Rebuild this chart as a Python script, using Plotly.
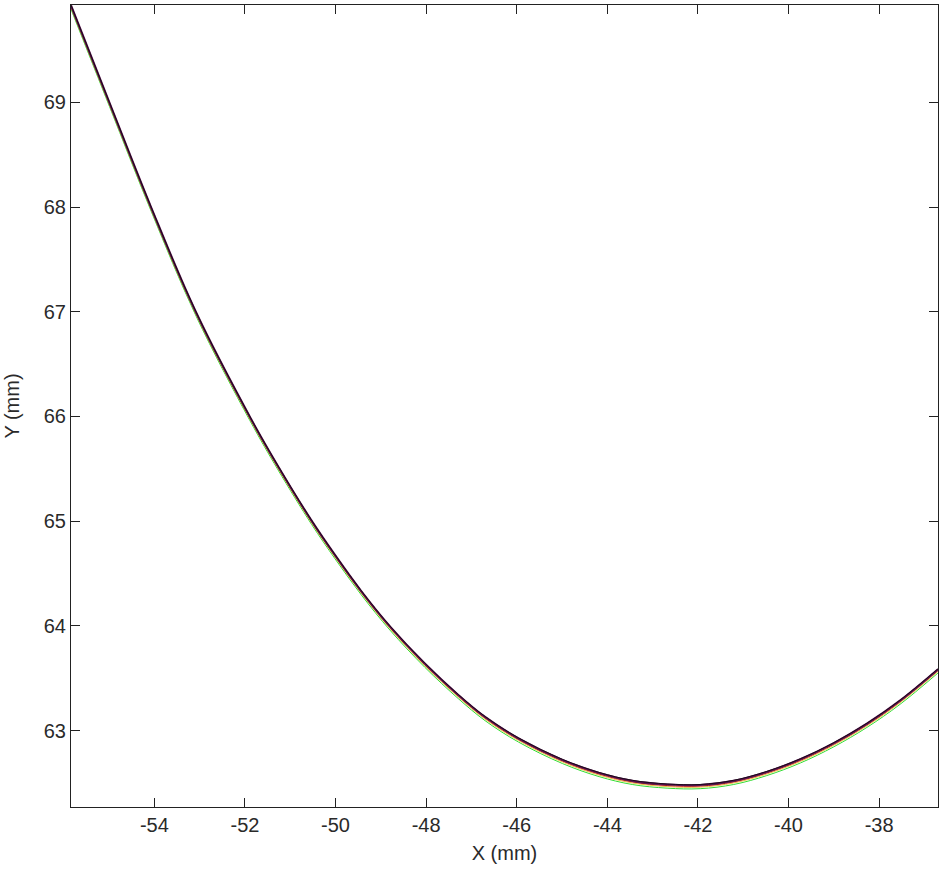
import plotly.graph_objects as go

# Values
x_vals = [-55.84, -54.99, -54.07, -53.08, -51.89, -51.27, -50.53, -50.01, -49.43,
          -48.80, -48.03, -47.29, -46.70, -45.96, -44.99, -44.18, -43.45, -42.68,
          -41.95, -41.21, -40.48, -39.74, -39.00, -38.27, -37.54, -36.70]
y_black = [69.93, 69.00, 68.00, 67.00, 66.00, 65.53, 65.01, 64.68, 64.335,
           64.00, 63.645, 63.345, 63.135, 62.93, 62.725, 62.60, 62.525, 62.49,
           62.485, 62.525, 62.61, 62.73, 62.885, 63.07, 63.29, 63.59]
y_purple = [69.925, 68.995, 67.995, 66.995, 65.995, 65.525, 65.005, 64.675, 64.33,
            63.995, 63.64, 63.34, 63.13, 62.925, 62.72, 62.595, 62.52, 62.485,
            62.48, 62.52, 62.605, 62.725, 62.88, 63.065, 63.285, 63.585]
y_red = [69.915, 68.985, 67.985, 66.985, 65.985, 65.515, 64.995, 64.665, 64.32,
         63.985, 63.63, 63.33, 63.12, 62.915, 62.71, 62.585, 62.51, 62.475,
         62.47, 62.51, 62.595, 62.715, 62.87, 63.055, 63.275, 63.575]
y_yellow = [69.905, 68.975, 67.975, 66.975, 65.975, 65.505, 64.985, 64.655, 64.31,
            63.975, 63.62, 63.32, 63.11, 62.905, 62.70, 62.575, 62.50, 62.465,
            62.46, 62.50, 62.585, 62.705, 62.86, 63.045, 63.265, 63.565]
y_green = [69.89, 68.96, 67.96, 66.96, 65.96, 65.49, 64.97, 64.64, 64.295,
           63.96, 63.605, 63.305, 63.095, 62.89, 62.685, 62.56, 62.485, 62.45,
           62.445, 62.485, 62.57, 62.69, 62.845, 63.03, 63.25, 63.55]

x_ticks = [-54, -52, -50, -48, -46, -44, -42, -40, -38]
x_tick_labels = ["-54", "-52", "-50", "-48", "-46", "-44", "-42", "-40", "-38"]
y_ticks = [63, 64, 65, 66, 67, 68, 69]
y_tick_labels = ["63", "64", "65", "66", "67", "68", "69"]

series = [
    ("green", y_green, "#33dd33", 1.0),
    ("yellow", y_yellow, "#e8c040", 1.0),
    ("red", y_red, "#cc1111", 1.0),
    ("purple", y_purple, "#5a1450", 2.2),
    ("black", y_black, "#1a0a18", 1.0),
]

fig = go.Figure()
for name, ys, color, w in series:
    fig.add_trace(go.Scatter(x=x_vals, y=ys, mode="lines", name=name,
                             line=dict(color=color, width=w, shape="spline", smoothing=1.0),
                             showlegend=False, hoverinfo="skip"))

font = dict(family="Liberation Sans, Arial, sans-serif", size=20, color="#2a2a2a")
axis_common = dict(showline=True, linecolor="#222222", linewidth=1, mirror="ticks",
                   ticks="inside", ticklen=9, tickcolor="#222222", showgrid=False,
                   zeroline=False, tickfont=font, automargin=False)

fig.update_layout(
    width=939, height=873,
    margin=dict(l=71, r=1, t=5, b=66),
    paper_bgcolor="white", plot_bgcolor="white",
    xaxis=dict(range=[-55.84, -36.70], tickvals=x_ticks, ticktext=x_tick_labels,
               title=dict(text="X (mm)", font=font, standoff=10), **axis_common),
    yaxis=dict(range=[62.27, 69.93], tickvals=y_ticks, ticktext=y_tick_labels,
               title=dict(text="Y (mm)", font=font, standoff=18), **axis_common),
)
fig.write_html("out.html", config={"displayModeBar": False},
               post_script="document.body.style.margin='0';document.body.style.overflow='hidden';")
